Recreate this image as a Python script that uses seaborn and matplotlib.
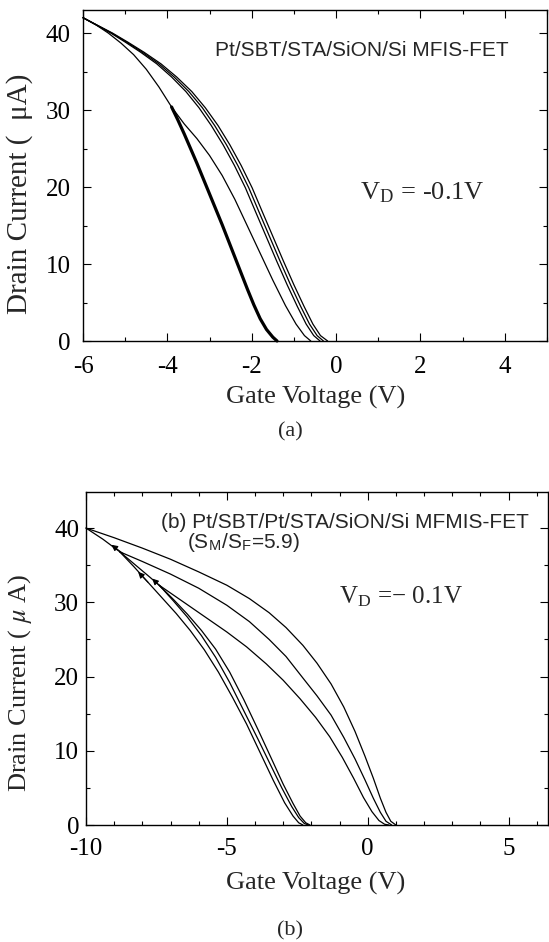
import matplotlib
matplotlib.use("Agg")
import matplotlib.pyplot as plt
import seaborn as sns
import pandas as pd
from matplotlib.ticker import MultipleLocator

# ---------------- panel (a): MFIS-FET ----------------
a_thick_v = [-3.9, -3.75, -3.6, -3.45, -3.3, -3.15, -3.0, -2.85, -2.7, -2.55, -2.4, -2.25, -2.1, -1.95, -1.8, -1.65, -1.5, -1.4]
a_thick_i = [30.4, 28.7, 26.9, 25.0, 23.1, 21.1, 19.1, 17.1, 15.1, 13.0, 10.9, 8.8, 6.7, 4.7, 2.9, 1.5, 0.5, 0.0]

a_mid_v = [-6.0, -5.7, -5.4, -5.1, -4.8, -4.5, -4.2, -3.9, -3.6, -3.3, -3.0, -2.7, -2.4, -2.1, -1.8, -1.5, -1.2, -0.95, -0.75, -0.6]
a_mid_i = [42.0, 41.1, 40.0, 38.7, 37.2, 35.3, 33.0, 30.4, 28.2, 26.3, 24.1, 21.5, 18.4, 14.9, 11.4, 7.9, 4.6, 2.2, 0.7, 0.0]

a_bundle_i = [42.0, 41.0, 40.0, 38.8, 37.5, 36.0, 34.3, 32.4, 30.3, 28.0, 25.5, 22.8, 19.9, 16.8, 13.6, 10.4, 7.3, 4.5, 2.2, 0.7, 0.0]
a_b1_v = [-6.0, -5.65, -5.3, -4.93, -4.55, -4.15, -3.78, -3.42, -3.1, -2.8, -2.52, -2.25, -1.99, -1.75, -1.5, -1.25, -1.0, -0.76, -0.55, -0.37, -0.2]
a_b2_v = [-6.0, -5.66, -5.32, -4.96, -4.59, -4.2, -3.84, -3.49, -3.17, -2.88, -2.6, -2.33, -2.07, -1.83, -1.58, -1.33, -1.08, -0.84, -0.63, -0.45, -0.3]
a_b3_v = [-6.0, -5.67, -5.34, -4.99, -4.63, -4.25, -3.9, -3.56, -3.25, -2.96, -2.68, -2.41, -2.15, -1.91, -1.66, -1.41, -1.16, -0.92, -0.71, -0.53, -0.38]

# ---------------- panel (b): MFMIS-FET ----------------
b_start_v = [-10.0, -9.4, -8.8]
b_start_i = [40.0, 38.5, 36.8]

b_r1_v = [-10.0, -9.0, -8.0, -7.0, -6.0, -5.0, -4.2, -3.5, -2.9, -2.3, -1.8, -1.3, -0.85, -0.45, -0.1, 0.2, 0.45, 0.65, 0.82, 1.0]
b_r1_i = [40.0, 38.7, 37.3, 35.8, 34.1, 32.3, 30.5, 28.6, 26.6, 24.2, 21.8, 19.0, 15.9, 12.6, 9.3, 6.3, 3.6, 1.7, 0.5, 0.0]

b_r2_v = [-8.8, -8.0, -7.0, -6.0, -5.0, -4.2, -3.5, -2.9, -2.3, -1.8, -1.3, -0.85, -0.45, -0.1, 0.2, 0.45, 0.65, 0.85]
b_r2_i = [36.8, 35.5, 33.8, 31.9, 29.6, 27.4, 25.0, 22.7, 19.8, 17.4, 14.8, 11.8, 8.9, 6.1, 3.6, 1.7, 0.5, 0.0]

b_r3_v = [-7.4, -6.6, -5.8, -5.0, -4.3, -3.6, -3.0, -2.4, -1.85, -1.35, -0.9, -0.5, -0.15, 0.15, 0.4, 0.6, 0.75]
b_r3_i = [32.3, 30.2, 28.1, 26.0, 24.0, 21.7, 19.5, 17.0, 14.5, 11.9, 9.1, 6.3, 3.7, 1.8, 0.6, 0.1, 0.0]

b_l1_v = [-8.8, -8.3, -7.8, -7.3, -6.8, -6.3, -5.8, -5.3, -4.8, -4.3, -3.8, -3.35, -2.95, -2.65, -2.45, -2.3]
b_l1_i = [36.8, 34.8, 32.7, 30.6, 28.5, 26.2, 23.6, 20.6, 17.2, 13.6, 9.6, 6.0, 3.0, 1.2, 0.3, 0.0]

b_l2_v = [-8.8, -8.3, -7.8, -7.4, -6.9, -6.4, -5.9, -5.4, -4.9, -4.4, -3.9, -3.45, -3.05, -2.7, -2.45, -2.25, -2.1]
b_l2_i = [36.8, 35.2, 33.6, 32.3, 30.2, 28.0, 25.5, 22.6, 19.2, 15.4, 11.6, 8.1, 5.0, 2.5, 1.0, 0.2, 0.0]

b_l3_v = [-7.4, -6.9, -6.4, -5.9, -5.4, -4.9, -4.4, -3.9, -3.4, -3.0, -2.65, -2.4, -2.2, -2.05]
b_l3_i = [32.3, 30.4, 28.4, 26.2, 23.7, 20.6, 16.9, 12.9, 8.8, 5.5, 2.9, 1.2, 0.3, 0.0]

# arrow heads (tip, tail) along the sweep
b_arrow_tip_v = [-9.1, -8.15, -7.65]
b_arrow_tip_i = [37.75, 34.1, 33.2]
b_arrow_tail_v = [-8.7, -7.8, -7.3]
b_arrow_tail_i = [36.6, 32.7, 31.9]

sns.set_theme(style="ticks")
plt.rcParams["font.family"] = ["Liberation Serif", "DejaVu Serif"]
plt.rcParams["mathtext.fontset"] = "stix"
plt.rcParams["axes.unicode_minus"] = False

W, H = 549, 942
fig = plt.figure(figsize=(W / 100, H / 100), dpi=100)
ax1 = fig.add_axes([83 / W, 1 - 341 / H, 464 / W, 331 / H])
ax2 = fig.add_axes([86 / W, 1 - 825 / H, 462 / W, 333.3 / H])


def draw(ax, v, i, lw=0.9):
    df = pd.DataFrame({"v": v, "i": i})
    sns.lineplot(data=df, x="v", y="i", sort=False, estimator=None,
                 color="black", linewidth=lw, ax=ax, clip_on=False)


# panel (a)
for v in (a_b1_v, a_b2_v, a_b3_v):
    draw(ax1, v, a_bundle_i, 0.9)
draw(ax1, a_mid_v, a_mid_i, 0.9)
draw(ax1, a_thick_v, a_thick_i, 2.3)

# panel (b)
draw(ax2, b_start_v, b_start_i)
draw(ax2, b_r1_v, b_r1_i)
draw(ax2, b_r2_v, b_r2_i)
draw(ax2, b_r3_v, b_r3_i)
draw(ax2, b_l1_v, b_l1_i)
draw(ax2, b_l2_v, b_l2_i)
draw(ax2, b_l3_v, b_l3_i)
for tv, ti, sv, si in zip(b_arrow_tip_v, b_arrow_tip_i, b_arrow_tail_v, b_arrow_tail_i):
    ax2.annotate("", xy=(tv, ti), xytext=(sv, si),
                 arrowprops=dict(arrowstyle="-|>", color="black", lw=0.8,
                                 mutation_scale=9, shrinkA=0, shrinkB=0))

for ax in (ax1, ax2):
    for s in ax.spines.values():
        s.set_color("black")
        s.set_linewidth(1.0)
    ax.tick_params(which="both", direction="in", top=True, right=True,
                   colors="black", width=0.8)
    ax.tick_params(which="major", length=6)
    ax.tick_params(which="minor", length=3)
    ax.yaxis.set_major_locator(MultipleLocator(10))
    ax.yaxis.set_minor_locator(MultipleLocator(5))

ax1.set_xlim(-6, 5)
ax1.set_ylim(0, 43)
ax1.xaxis.set_major_locator(MultipleLocator(2))
ax1.xaxis.set_minor_locator(MultipleLocator(1))
ax1.tick_params(axis="x", which="major", labelsize=18, pad=11)
ax1.tick_params(axis="y", which="major", labelsize=18, pad=9)

ax2.set_xlim(-10, 6.4)
ax2.set_ylim(0, 44.9)
ax2.xaxis.set_major_locator(MultipleLocator(5))
ax2.xaxis.set_minor_locator(MultipleLocator(1))
ax2.tick_params(axis="x", which="major", labelsize=18, pad=9.5)
ax2.tick_params(axis="y", which="major", labelsize=18, pad=5)

ax1.set_xlabel("Gate Voltage (V)", fontsize=19)
ax1.set_ylabel("Drain Current (  \u03bcA)", fontsize=21)
ax1.xaxis.set_label_coords(0.502, -0.136)
ax1.yaxis.set_label_coords(-0.108, 0.446)

ax2.set_xlabel("Gate Voltage (V)", fontsize=19)
ax2.set_ylabel("Drain Current ( $\\mu$ A)", fontsize=19)
ax2.xaxis.set_label_coords(0.496, -0.142)
ax2.yaxis.set_label_coords(-0.112, 0.4275)

sans = ["Liberation Sans", "DejaVu Sans"]
fig.text(362 / W, 1 - 50 / H, "Pt/SBT/STA/SiON/Si MFIS-FET", family=sans,
         fontsize=15, ha="center", va="center")
fig.text(422 / W, 1 - 193 / H, "V$_{\\mathregular{D}}$ = -0.1V", fontsize=19,
         ha="center", va="center")
fig.text(290 / W, 1 - 432 / H, "(a)", fontsize=16, ha="center", va="center")

fig.text(345 / W, 1 - 523 / H, "(b) Pt/SBT/Pt/STA/SiON/Si MFMIS-FET", family=sans,
         fontsize=15, ha="center", va="center")
fig.text(243 / W, 1 - 542 / H, "(S$_{\\mathregular{M}}$/S$_{\\mathregular{F}}$=5.9)",
         family=sans, fontsize=15, ha="center", va="center")
fig.text(401 / W, 1 - 597 / H, "V$_{\\mathregular{D}}$ =\u2212 0.1V", fontsize=18,
         ha="center", va="center")
fig.text(290 / W, 1 - 931 / H, "(b)", fontsize=16, ha="center", va="center")

fig.savefig("out.png", dpi=100)
